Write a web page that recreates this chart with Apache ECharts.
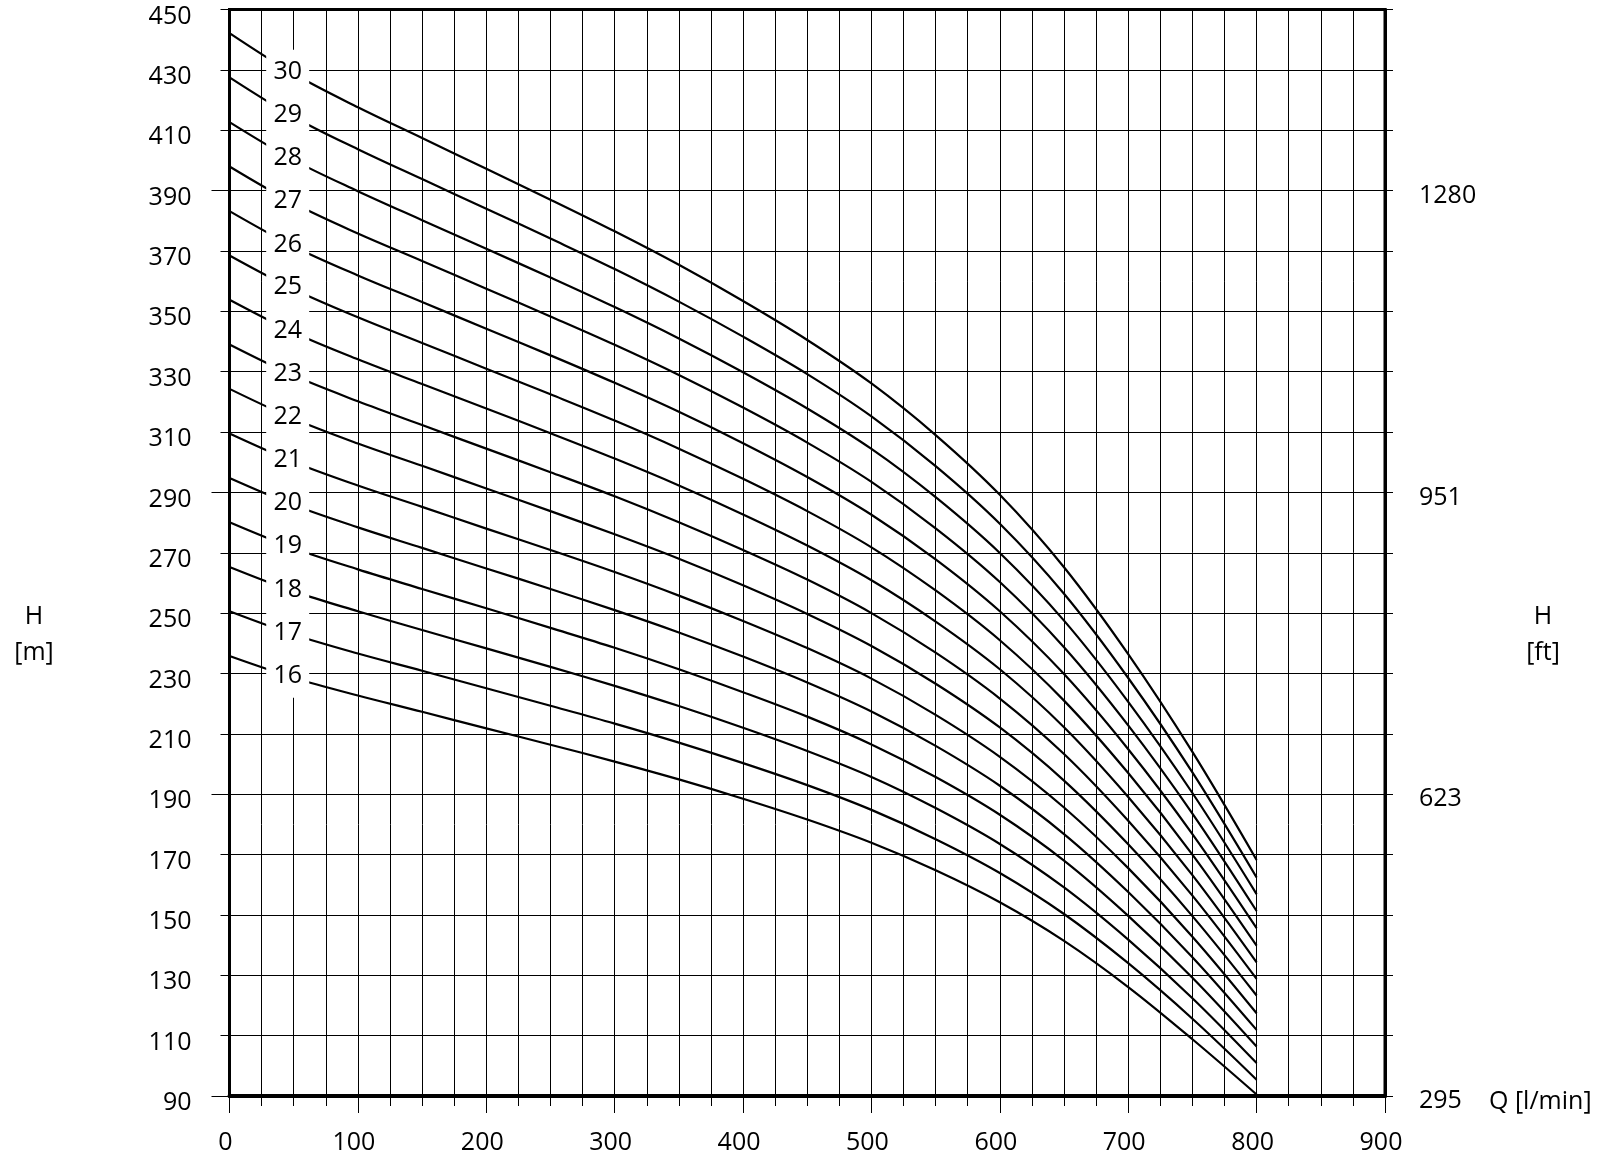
<!DOCTYPE html>
<html><head><meta charset="utf-8">
<script src="https://cdn.jsdelivr.net/npm/echarts@6/dist/echarts.min.js"></script>
<style>html,body{margin:0;padding:0;background:#fff}#c{width:1600px;height:1157px}</style>
</head><body><div id="c"></div>
<script>
// Flow rate points Q [l/min]
const flow = [0,50,100,150,200,250,300,350,400,450,500,550,600,650,700,750,800];
// Stage counts (curve labels)
const stages = ['16','17','18','19','20','21','22','23','24','25','26','27','28','29','30'];
// Head H [m] for each stage count
const head16 = [235.8,228.6,222.7,217.3,211.8,206.4,200.8,194.9,188.5,181.6,173.9,164.8,154.2,141.4,126.1,108.8,90.5];
const head17 = [250.6,242.9,236.6,230.9,225.1,219.3,213.4,207.1,200.3,193.0,184.8,175.1,163.9,150.3,134.0,115.6,95.4];
const head18 = [265.3,257.2,250.6,244.4,238.3,232.2,225.9,219.2,212.0,204.3,195.7,185.4,173.5,159.1,141.8,122.4,100.9];
const head19 = [280.1,271.5,264.5,258.0,251.6,245.1,238.5,231.4,223.8,215.7,206.5,195.7,183.2,168.0,149.7,129.2,106.4];
const head20 = [294.8,285.8,278.4,271.6,264.8,258.0,251.0,243.6,235.6,227.0,217.4,206.0,192.8,176.8,157.6,136.0,111.9];
const head21 = [309.5,300.1,292.3,285.2,278.0,270.9,263.6,255.8,247.4,238.4,228.3,216.3,202.4,185.6,165.5,142.8,117.4];
const head22 = [324.3,314.4,306.2,298.8,291.3,283.8,276.1,268.0,259.2,249.7,239.1,226.6,212.1,194.5,173.4,149.6,123.3];
const head23 = [339.0,328.7,320.2,312.3,304.5,296.7,288.7,280.1,270.9,261.1,250.0,236.9,221.7,203.3,181.2,156.4,128.8];
const head24 = [353.8,343.0,334.1,325.9,317.8,309.6,301.2,292.3,282.7,272.4,260.9,247.2,231.4,212.2,189.1,163.2,134.3];
const head25 = [368.5,357.3,348.0,339.5,331.0,322.5,313.8,304.5,294.5,283.8,271.8,257.5,241.0,221.0,197.0,170.0,139.8];
const head26 = [383.2,371.5,361.9,353.1,344.2,335.4,326.3,316.7,306.3,295.1,282.6,267.8,250.6,229.8,204.9,176.8,145.6];
const head27 = [398.0,385.8,375.8,366.7,357.5,348.3,338.9,328.9,318.1,306.5,293.5,278.1,260.3,238.7,212.8,183.6,151.3];
const head28 = [412.7,400.1,389.8,380.2,370.7,361.2,351.4,341.0,329.8,317.8,304.4,288.4,269.9,247.5,220.6,190.4,156.9];
const head29 = [427.5,414.4,403.7,393.8,384.0,374.1,364.0,353.2,341.6,329.2,315.2,298.7,279.6,256.4,228.5,197.2,162.4];
const head30 = [442.2,428.7,417.6,407.4,397.2,387.0,376.5,365.4,353.4,340.5,326.1,309.0,289.2,265.2,236.4,204.0,168.2];
// Axis ticks
const yTicks = [90,110,130,150,170,190,210,230,250,270,290,310,330,350,370,390,410,430,450];
const ftTickValues = [90,190,290,390];
const ftLabels = ['295','623','951','1280'];

const heads = [head16,head17,head18,head19,head20,head21,head22,head23,head24,head25,head26,head27,head28,head29,head30];
const FONT = 'Open Sans';
const txt = {color:'#000', fontFamily:FONT, fontSize:25};

const curveSeries = heads.map((h, i) => ({
  type:'line', name: stages[i], xAxisIndex:0, yAxisIndex:0,
  data: flow.map((q, j) => [q, h[j]]),
  smooth: 0.35, showSymbol:false, symbol:'none', z:3,
  lineStyle:{color:'#000', width:2.2}, silent:true
}));

const labelSeries = {
  type:'scatter', xAxisIndex:0, yAxisIndex:0, z:10, silent:true,
  symbolSize:0, itemStyle:{color:'#000', opacity:1},
  data: heads.map((h, i) => ({value:[flow[1], h[1]], name: stages[i]})),
  label:{show:true, position:'inside', formatter: p => p.name, ...txt,
    textBorderWidth:0, textBorderColor:'transparent', textShadowBlur:0, opacity:1,
    backgroundColor:'#fff', width:43, height:44, lineHeight:44,
    align:'center', verticalAlign:'middle', offset:[-6,-2]},
  emphasis:{disabled:true}
};

const chart = echarts.init(document.getElementById('c'));
chart.setOption({
  animation:false,
  backgroundColor:'#fff',
  grid:{left:229.5, right:215, top:9.5, bottom:61, show:true, borderColor:'#000', borderWidth:3,
        backgroundColor:'transparent', containLabel:false, outerBoundsMode:'none'},
  xAxis:[
    {type:'value', min:0, max:900, interval:25, position:'bottom',
     axisLine:{show:true, onZero:false, lineStyle:{color:'#000', width:4}},
     axisTick:{show:true, length:10, lineStyle:{color:'#000', width:1}},
     axisLabel:{...txt, margin:34, padding:[0,8,0,0], formatter: v => (v % 100 === 0 ? String(v) : '')},
     splitLine:{show:true, lineStyle:{color:'#000', width:1}},
     name:'Q [l/min]', nameLocation:'end', nameGap:104,
     nameTextStyle:{...txt, align:'left', verticalAlign:'top', lineHeight:12}},
    {type:'value', min:0, max:900, interval:100, position:'bottom',
     axisLine:{show:false}, axisTick:{show:true, length:17, lineStyle:{color:'#000', width:1}},
     axisLabel:{show:false}, splitLine:{show:false}}
  ],
  yAxis:[
    {type:'value', min:90, max:450, interval:20, position:'left',
     axisLine:{show:true, onZero:false, lineStyle:{color:'#000', width:3}},
     axisTick:{show:true, length:9, customValues:yTicks, lineStyle:{color:'#000', width:1}},
     axisLabel:{...txt, customValues:yTicks, margin:38, verticalAlign:'top', lineHeight:14},
     splitLine:{show:true, lineStyle:{color:'#000', width:1}}},
    {type:'value', min:90, max:450, position:'left', offset:0,
     axisLine:{show:false}, axisTick:{show:true, length:18, customValues:ftTickValues, lineStyle:{color:'#000', width:1}},
     axisLabel:{show:false}, splitLine:{show:false}},
    {type:'value', min:90, max:450, position:'right', offset:0,
     axisLine:{show:true, onZero:false, lineStyle:{color:'#000', width:3}},
     axisTick:{show:true, length:8, customValues:yTicks, lineStyle:{color:'#000', width:1}},
     axisLabel:{show:false}, splitLine:{show:false}},
    {type:'value', min:90, max:450, position:'right', offset:0,
     axisLine:{show:false}, axisTick:{show:true, length:18, customValues:ftTickValues, lineStyle:{color:'#000', width:1}},
     axisLabel:{...txt, customValues:ftTickValues, margin:34, verticalAlign:'top', lineHeight:10,
       formatter: v => ftLabels[ftTickValues.indexOf(v)]},
     splitLine:{show:false}}
  ],
  graphic:[
    {type:'text', x:34, y:617, style:{text:'H', font:'25px "Open Sans"', fill:'#000', align:'center', verticalAlign:'middle'}},
    {type:'text', x:34, y:653, style:{text:'[m]', font:'25px "Open Sans"', fill:'#000', align:'center', verticalAlign:'middle'}},
    {type:'text', x:1543, y:617, style:{text:'H', font:'25px "Open Sans"', fill:'#000', align:'center', verticalAlign:'middle'}},
    {type:'text', x:1543, y:653, style:{text:'[ft]', font:'25px "Open Sans"', fill:'#000', align:'center', verticalAlign:'middle'}}
  ],
  series: curveSeries.concat([labelSeries])
});
</script></body></html>
